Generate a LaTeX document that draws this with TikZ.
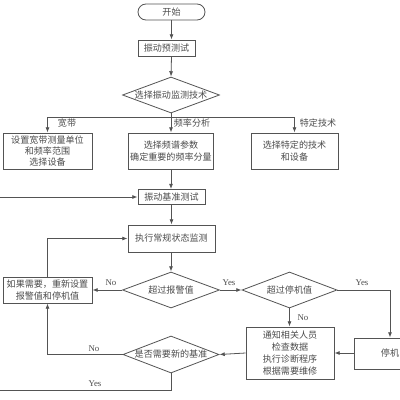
\documentclass[tikz,border=0pt]{standalone}
\usepackage{fontspec}
\setmainfont{Liberation Serif}
\newfontfamily\cjk{Noto Sans CJK SC}
\usetikzlibrary{shapes.geometric,arrows.meta}
\definecolor{ln}{rgb}{0.33,0.33,0.33}
\definecolor{tx}{rgb}{0.3,0.3,0.3}
\begin{document}
\begin{tikzpicture}[x=0.75pt,y=-0.75pt,line width=0.6pt,
  box/.style={draw=ln,rectangle,inner sep=0pt,align=center,text=tx,
    font=\cjk\fontsize{6.8}{8.6}\selectfont},
  dia/.style={draw=ln,diamond,inner sep=0pt,text=tx,
    font=\cjk\fontsize{6.8}{8.6}\selectfont},
  lab/.style={inner sep=0pt,text=tx,font=\cjk\fontsize{6.8}{8.6}\selectfont},
  latin/.style={inner sep=0pt,text=tx,font=\fontsize{6.6}{8}\selectfont},
  arr/.style={draw=ln,-{Latex[length=4pt,width=3pt]}}]
\useasboundingbox (0,0) rectangle (400,400);
\clip (0,0) rectangle (400,400);
\fill[white] (0,0) rectangle (400,400);

\node[box,rounded corners=6pt,minimum width=67*0.75pt,minimum height=16*0.75pt] (start) at (171.5,12) {开始};
\node[box,minimum width=57*0.75pt,minimum height=16*0.75pt] (pre) at (166.5,48) {振动预测试};
\node[dia,minimum width=97*0.75pt,minimum height=36*0.75pt] (sel) at (171,95) {\makebox[0pt]{选择振动监测技术}};
\node[box,minimum width=89*0.75pt,minimum height=36*0.75pt] (b1) at (47.5,151) {设置宽带测量单位\\和频率范围\\选择设备};
\node[box,minimum width=85*0.75pt,minimum height=36*0.75pt] (b2) at (171,151) {选择频谱参数\\确定重要的频率分量};
\node[box,minimum width=87*0.75pt,minimum height=36*0.75pt] (b3) at (294.5,151) {选择特定的技术\\和设备};
\node[box,minimum width=67*0.75pt,minimum height=15*0.75pt] (base) at (171.5,197) {振动基准测试};
\node[box,minimum width=87*0.75pt,minimum height=27*0.75pt] (mon) at (171.5,238.5) {执行常规状态监测};
\node[dia,minimum width=97*0.75pt,minimum height=36*0.75pt] (alarm) at (171,290) {\makebox[0pt]{超过报警值}};
\node[box,minimum width=89*0.75pt,minimum height=26*0.75pt] (reset) at (47.5,290) {如果需要，重新设置\\报警值和停机值};
\node[dia,minimum width=95*0.75pt,minimum height=36*0.75pt] (stop) at (289.5,290) {\makebox[0pt]{超过停机值}};
\node[box,minimum width=88*0.75pt,minimum height=52*0.75pt,font=\cjk\fontsize{6.8}{8.9}\selectfont] (notify) at (290,353) {通知相关人员\\检查数据\\执行诊断程序\\根据需要维修};
\node[box,minimum width=72*0.75pt,minimum height=31*0.75pt] (halt) at (390,353.5) {停机};
\node[dia,minimum width=96*0.75pt,minimum height=37*0.75pt] (nb) at (171,354.5) {\makebox[0pt]{是否需要新的基准}};

\coordinate (br) at (171,117);
\coordinate (lowleft) at (-10,390);

\draw[arr] (start.south) -- (start.south |- pre.north);
\draw[arr] (start.south |- pre.south) -- (sel.north);
\draw[arr] (sel.south) -- (b2.north);
\draw[arr] (br) -| (b1.north);
\draw[arr] (br) -| (b3.north);
\draw[arr] (b2.south) -- (b2.south |- base.north);
\draw[arr] (base.south) -- (base.south |- mon.north);
\draw[arr] (mon.south -| alarm.north) -- (alarm.north);
\draw[arr] (alarm.west) -- (reset.east);
\draw[arr] (alarm.east) -- (stop.west);
\draw[arr] (stop.east) -| (halt.north);
\draw[arr] (stop.south) -- (stop.south |- notify.north);
\draw[arr] (halt.west |- notify.east) -- (notify.east);
\draw[arr] (notify.west) -- (nb.east);
\draw[arr] (nb.west) -| (reset.south);
\draw[arr] (reset.north) |- (mon.west);
\draw[arr] (nb.south) |- (lowleft) |- (base.west);

\node[lab] (l1) at (67,123.5) {宽带};
\node[lab] (l2) at (192,123.5) {频率分析};
\node[lab] (l3) at (318,123.5) {特定技术};
\node[latin] (n1) at (111,283) {No};
\node[latin] (y1) at (229,283) {Yes};
\node[latin] (y2) at (362,283) {Yes};
\node[latin] (n2) at (303,318) {No};
\node[latin] (n3) at (94,349) {No};
\node[latin] (y3) at (95,384) {Yes};
\end{tikzpicture}
\end{document}
